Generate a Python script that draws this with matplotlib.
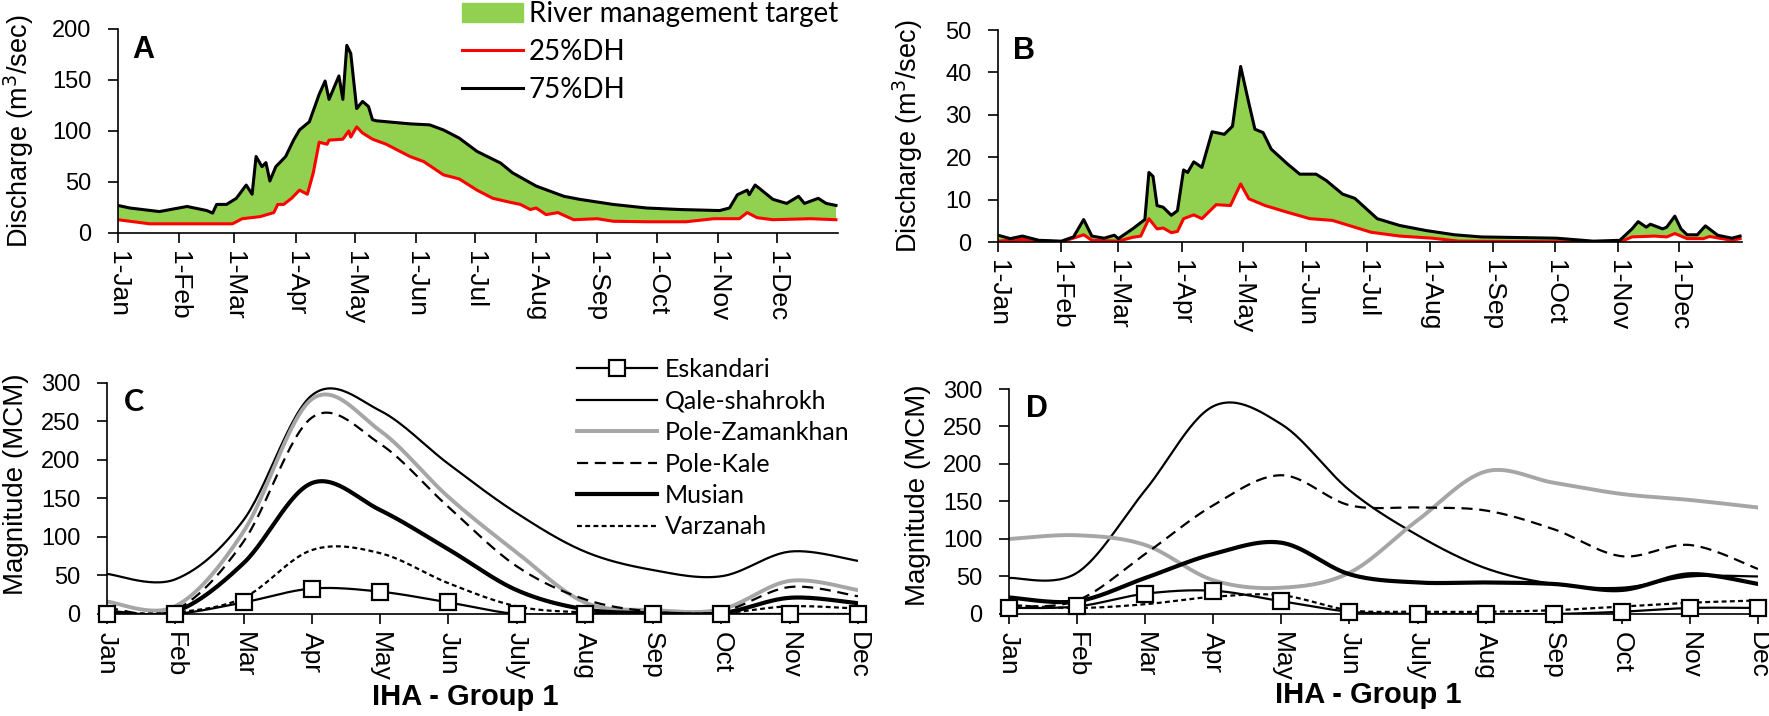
import numpy as np
import matplotlib
matplotlib.use("Agg")
import matplotlib.pyplot as plt
from matplotlib.lines import Line2D
from matplotlib.patches import Patch

# ---- panel A: daily discharge envelope (day of year, m3/s) ----
a_hi_day = [0, 6, 21, 35, 45, 48, 50, 55, 60, 65, 68, 70, 73, 75, 77, 80, 85, 89, 92, 97,
            102, 105, 107, 112, 114, 116, 118, 121, 124, 127, 129, 131, 148, 158, 165, 173, 182, 194, 200, 212,
            226, 234, 251, 268, 285, 305, 310, 314, 319, 320, 323, 325, 332, 339, 345, 348, 355, 359, 364]
a_hi = [27, 24.5, 21, 26, 22, 19.5, 28, 28, 34, 47, 38, 75, 65, 69, 51, 65, 75, 91, 101, 109,
        136, 149, 131, 154, 131, 184, 176, 122, 129, 124, 111, 110, 107, 106, 101, 93, 80, 68.5, 59, 46,
        36, 33, 28, 24.5, 23, 22, 24.5, 37.5, 42, 37.5, 47, 44, 33, 29, 36, 29, 34, 29, 27]
a_lo_day = [0, 8, 16, 30, 58, 63, 72, 79, 81, 84, 88, 92, 96, 99, 102, 106, 107, 114, 117, 118,
            121, 124, 129, 136, 143, 148, 155, 165, 173, 182, 190, 199, 204, 209, 212, 217, 223, 231, 243, 251,
            268, 288, 302, 315, 319, 324, 332, 351, 364]
a_lo = [13, 11, 9, 9, 9, 14, 16, 20, 28, 28, 34, 42, 38, 59, 89, 87, 91, 92, 100, 94,
        104, 98, 92, 87, 80, 75, 70, 57, 53, 42, 34, 30, 28, 23, 24.5, 18, 20, 13, 14, 11.5,
        11, 11, 14, 14, 20, 15, 13, 14, 13]

# ---- panel B ----
b_hi_day = [0, 6, 12, 20, 31, 37, 42, 46, 52, 57, 59, 66, 72, 74, 76, 78, 81, 85, 88, 91,
            93, 96, 100, 105, 111, 115, 119, 123, 126, 130, 134, 142, 148, 156, 161, 169, 175, 186, 197, 210,
            224, 237, 274, 292, 305, 311, 314, 318, 320, 326, 328, 332, 335, 338, 343, 347, 353, 360, 364]
b_hi = [1.6, 0.8, 1.4, 0.4, 0.2, 1.2, 5.3, 1.4, 0.9, 1.6, 0.8, 3.1, 5.3, 16.4, 15.5, 8.6, 8.2, 6.3, 7.4, 17,
        16.4, 18.9, 17.6, 26, 25.4, 27.3, 41.4, 32.8, 26.6, 25.8, 21.9, 18.4, 16, 16, 14.5, 11.3, 10.3, 5.5, 3.9, 2.7,
        1.7, 1.2, 0.9, 0.2, 0.4, 3.1, 4.8, 3.5, 4.2, 3.1, 3.5, 6.1, 3.1, 1.7, 1.7, 3.8, 1.6, 0.9, 1.4]
b_lo_day = [0, 12, 31, 42, 46, 59, 66, 70, 74, 78, 81, 85, 88, 91, 96, 100, 107, 114, 119, 123,
            131, 142, 153, 164, 183, 197, 213, 226, 305, 311, 322, 328, 332, 338, 346, 349, 360, 364]
b_lo = [0.2, 0.6, 0, 1.7, 0.4, 0.2, 1.1, 1.4, 5.5, 3.1, 3.3, 2.2, 2.5, 5.5, 6.4, 5.5, 8.8, 8.6, 13.7, 10.2,
        8.6, 7, 5.5, 5.1, 2.3, 1.4, 0.9, 0.2, 0, 1.2, 1.4, 1.2, 2.0, 0.8, 0.8, 1.3, 0.4, 0.8]

month_start = [0, 31, 59, 90, 120, 151, 181, 212, 243, 273, 304, 334]
day_labels = ["1-Jan", "1-Feb", "1-Mar", "1-Apr", "1-May", "1-Jun",
              "1-Jul", "1-Aug", "1-Sep", "1-Oct", "1-Nov", "1-Dec"]

# ---- panels C and D: monthly magnitude (MCM) ----
months = ["Jan", "Feb", "Mar", "Apr", "May", "Jun", "July", "Aug", "Sep", "Oct", "Nov", "Dec"]
stations = ["Eskandari", "Qale-shahrokh", "Pole-Zamankhan", "Pole-Kale", "Musian", "Varzanah"]
c_vals = {
    "Eskandari":      [0, 0, 15, 33, 29, 15, 0, 0, 0, 0, 0, 0],
    "Qale-shahrokh":  [52, 45, 122, 284, 264, 195, 131, 81, 57, 49, 81, 69],
    "Pole-Zamankhan": [16, 10, 107, 279, 238, 152, 80, 15, 5, 6, 43, 31],
    "Pole-Kale":      [8, 5, 94, 255, 221, 139, 62, 19, 3, 3, 35, 23],
    "Musian":         [3, 3, 66, 170, 135, 84, 31, 6, 1, 1, 21, 14],
    "Varzanah":       [2, 2, 21, 83, 79, 40, 10, 2, 1, 1, 10, 7],
}
d_vals = {
    "Eskandari":      [8, 10, 27, 31, 17, 3, 0, 0, 0, 3, 8, 8],
    "Qale-shahrokh":  [48, 55, 165, 277, 253, 165, 105, 61, 40, 35, 50, 50],
    "Pole-Zamankhan": [100, 105, 92, 45, 35, 55, 125, 190, 175, 160, 152, 142],
    "Pole-Kale":      [10, 18, 80, 145, 185, 145, 142, 138, 113, 77, 92, 60],
    "Musian":         [22, 17, 48, 80, 95, 53, 42, 42, 40, 32, 53, 40],
    "Varzanah":       [12, 8, 13, 23, 25, 5, 3, 3, 5, 10, 15, 18],
}

GREEN = "#92D050"
GRAY = "#A6A6A6"
ARIAL = ["Liberation Sans", "DejaVu Sans"]
LEG = ["Lato", "DejaVu Sans"]

styles = {
    "Eskandari":      dict(color="black", lw=1.6, ls="-", marker="s", ms=12, mfc="white", mec="black", mew=1.6),
    "Qale-shahrokh":  dict(color="black", lw=1.6, ls="-"),
    "Pole-Zamankhan": dict(color=GRAY, lw=2.8, ls="-"),
    "Pole-Kale":      dict(color="black", lw=1.6, ls=(0, (5, 3))),
    "Musian":         dict(color="black", lw=3.0, ls="-"),
    "Varzanah":       dict(color="black", lw=1.6, ls=(0, (2.2, 1.5))),
}


def smooth(xs, ys, n=30):
    # excel-like smoothed line (bezier through the points)
    xs = np.asarray(xs, float)
    ys = np.asarray(ys, float)
    px = np.r_[xs[0], xs, xs[-1]]
    py = np.r_[ys[0], ys, ys[-1]]
    t = np.linspace(0, 1, n)[:, None]
    out_x, out_y = [], []
    for i in range(len(xs) - 1):
        for p, out in ((px, out_x), (py, out_y)):
            p0, p1, p2, p3 = p[i], p[i + 1], p[i + 2], p[i + 3]
            c1 = p1 + (p2 - p0) / 6
            c2 = p2 - (p3 - p1) / 6
            seg = (1 - t) ** 3 * p1 + 3 * (1 - t) ** 2 * t * c1 + 3 * (1 - t) * t ** 2 * c2 + t ** 3 * p2
            out.extend(seg.ravel())
    return np.array(out_x), np.array(out_y)


def style_axes(ax):
    for s in ["top", "right"]:
        ax.spines[s].set_visible(False)
    for s in ["left", "bottom"]:
        ax.spines[s].set_linewidth(1.2)
    ax.tick_params(axis="y", direction="out", length=7, width=1.2, labelsize=17,
                   labelfontfamily=ARIAL, pad=12)
    ax.tick_params(axis="x", direction="out", length=7, width=1.2, labelsize=19,
                   labelfontfamily=ARIAL, rotation=-90, pad=6)


fig = plt.figure(figsize=(17.69, 7.16), dpi=100)

# ---- A and B ----
axA = fig.add_axes([0.0667, 0.6746, 0.4070, 0.2849])
axB = fig.add_axes([0.5642, 0.6620, 0.4206, 0.2961])
for ax, hd, hv, ld, lv, top, step, letter, lx in [
        (axA, a_hi_day, a_hi, a_lo_day, a_lo, 200, 50, "A", -0.114),
        (axB, b_hi_day, b_hi, b_lo_day, b_lo, 50, 10, "B", -0.098)]:
    ax.fill(np.r_[hd, ld[::-1]], np.r_[hv, lv[::-1]], color=GREEN, lw=0)
    ax.plot(ld, lv, color="red", lw=2.2)
    ax.plot(hd, hv, color="black", lw=2.2)
    ax.set_xlim(0, 365)
    ax.set_ylim(0, top)
    ax.set_yticks(np.arange(0, top + 1, step))
    ax.set_xticks(month_start)
    ax.set_xticklabels(day_labels, va="top")
    style_axes(ax)
    ax.set_ylabel("Discharge (m$^3$/sec)", fontsize=19.5, family=ARIAL)
    ax.yaxis.set_label_coords(lx, 0.5)
    ax.text(0.02, 0.97, letter, transform=ax.transAxes, fontsize=22, fontweight="bold",
            family=ARIAL, va="top", ha="left")

legA = [Patch(color=GREEN, label="River management target"),
        Line2D([], [], color="red", lw=2.2, label="25%DH"),
        Line2D([], [], color="black", lw=2.2, label="75%DH")]
fig.legend(handles=legA, loc="upper left", bbox_to_anchor=(462 / 1769, 0.998), frameon=False,
           prop={"family": LEG, "size": 20}, handlelength=2.2, handletextpad=0.2,
           labelspacing=0.42, borderpad=0, borderaxespad=0)

# ---- C and D ----
axC = fig.add_axes([0.0605, 0.1425, 0.4245, 0.3226])
axD = fig.add_axes([0.5704, 0.1425, 0.4234, 0.3142])
xm = np.arange(len(months))
for ax, vals, letter, lx, ly, xl in [(axC, c_vals, "C", -0.104, 0.56, 0.477),
                                     (axD, d_vals, "D", -0.104, 0.53, 0.48)]:
    for name in stations:
        st = dict(styles[name])
        sx, sy = smooth(xm, vals[name])
        mk = {k: st.pop(k) for k in ["marker", "ms", "mfc", "mec", "mew"] if k in st}
        ax.plot(sx, sy, **st)
        if mk:
            ax.plot(xm, vals[name], ls="none", marker=mk["marker"], ms=mk["ms"],
                    mfc=mk["mfc"], mec=mk["mec"], mew=mk["mew"], zorder=5, clip_on=False)
    ax.set_xlim(0, 11)
    ax.set_ylim(0, 300)
    ax.set_yticks(np.arange(0, 301, 50))
    ax.set_xticks(xm)
    ax.set_xticklabels(months, va="top")
    style_axes(ax)
    ax.set_ylabel("Magnitude (MCM)", fontsize=20, family=ARIAL)
    ax.yaxis.set_label_coords(lx, ly)
    ax.set_xlabel("IHA - Group 1", fontsize=21, fontweight="bold", family=ARIAL)
    ax.xaxis.set_label_coords(xl, -0.30)
    ax.text(0.022, 0.98, letter, transform=ax.transAxes, fontsize=22, fontweight="bold",
            family=LEG if letter == "C" else ARIAL, va="top", ha="left")

legC = []
for name in stations:
    st = dict(styles[name])
    legC.append(Line2D([], [], label=name, **st))
axC.legend(handles=legC, loc="upper left", bbox_to_anchor=(577 / 1769, 1 - 358 / 716),
           bbox_transform=fig.transFigure, frameon=False, prop={"family": LEG, "size": 18},
           handlelength=3.2, handletextpad=0.3, labelspacing=0.34, borderpad=0, borderaxespad=0)

fig.savefig("out.png", dpi=100)
